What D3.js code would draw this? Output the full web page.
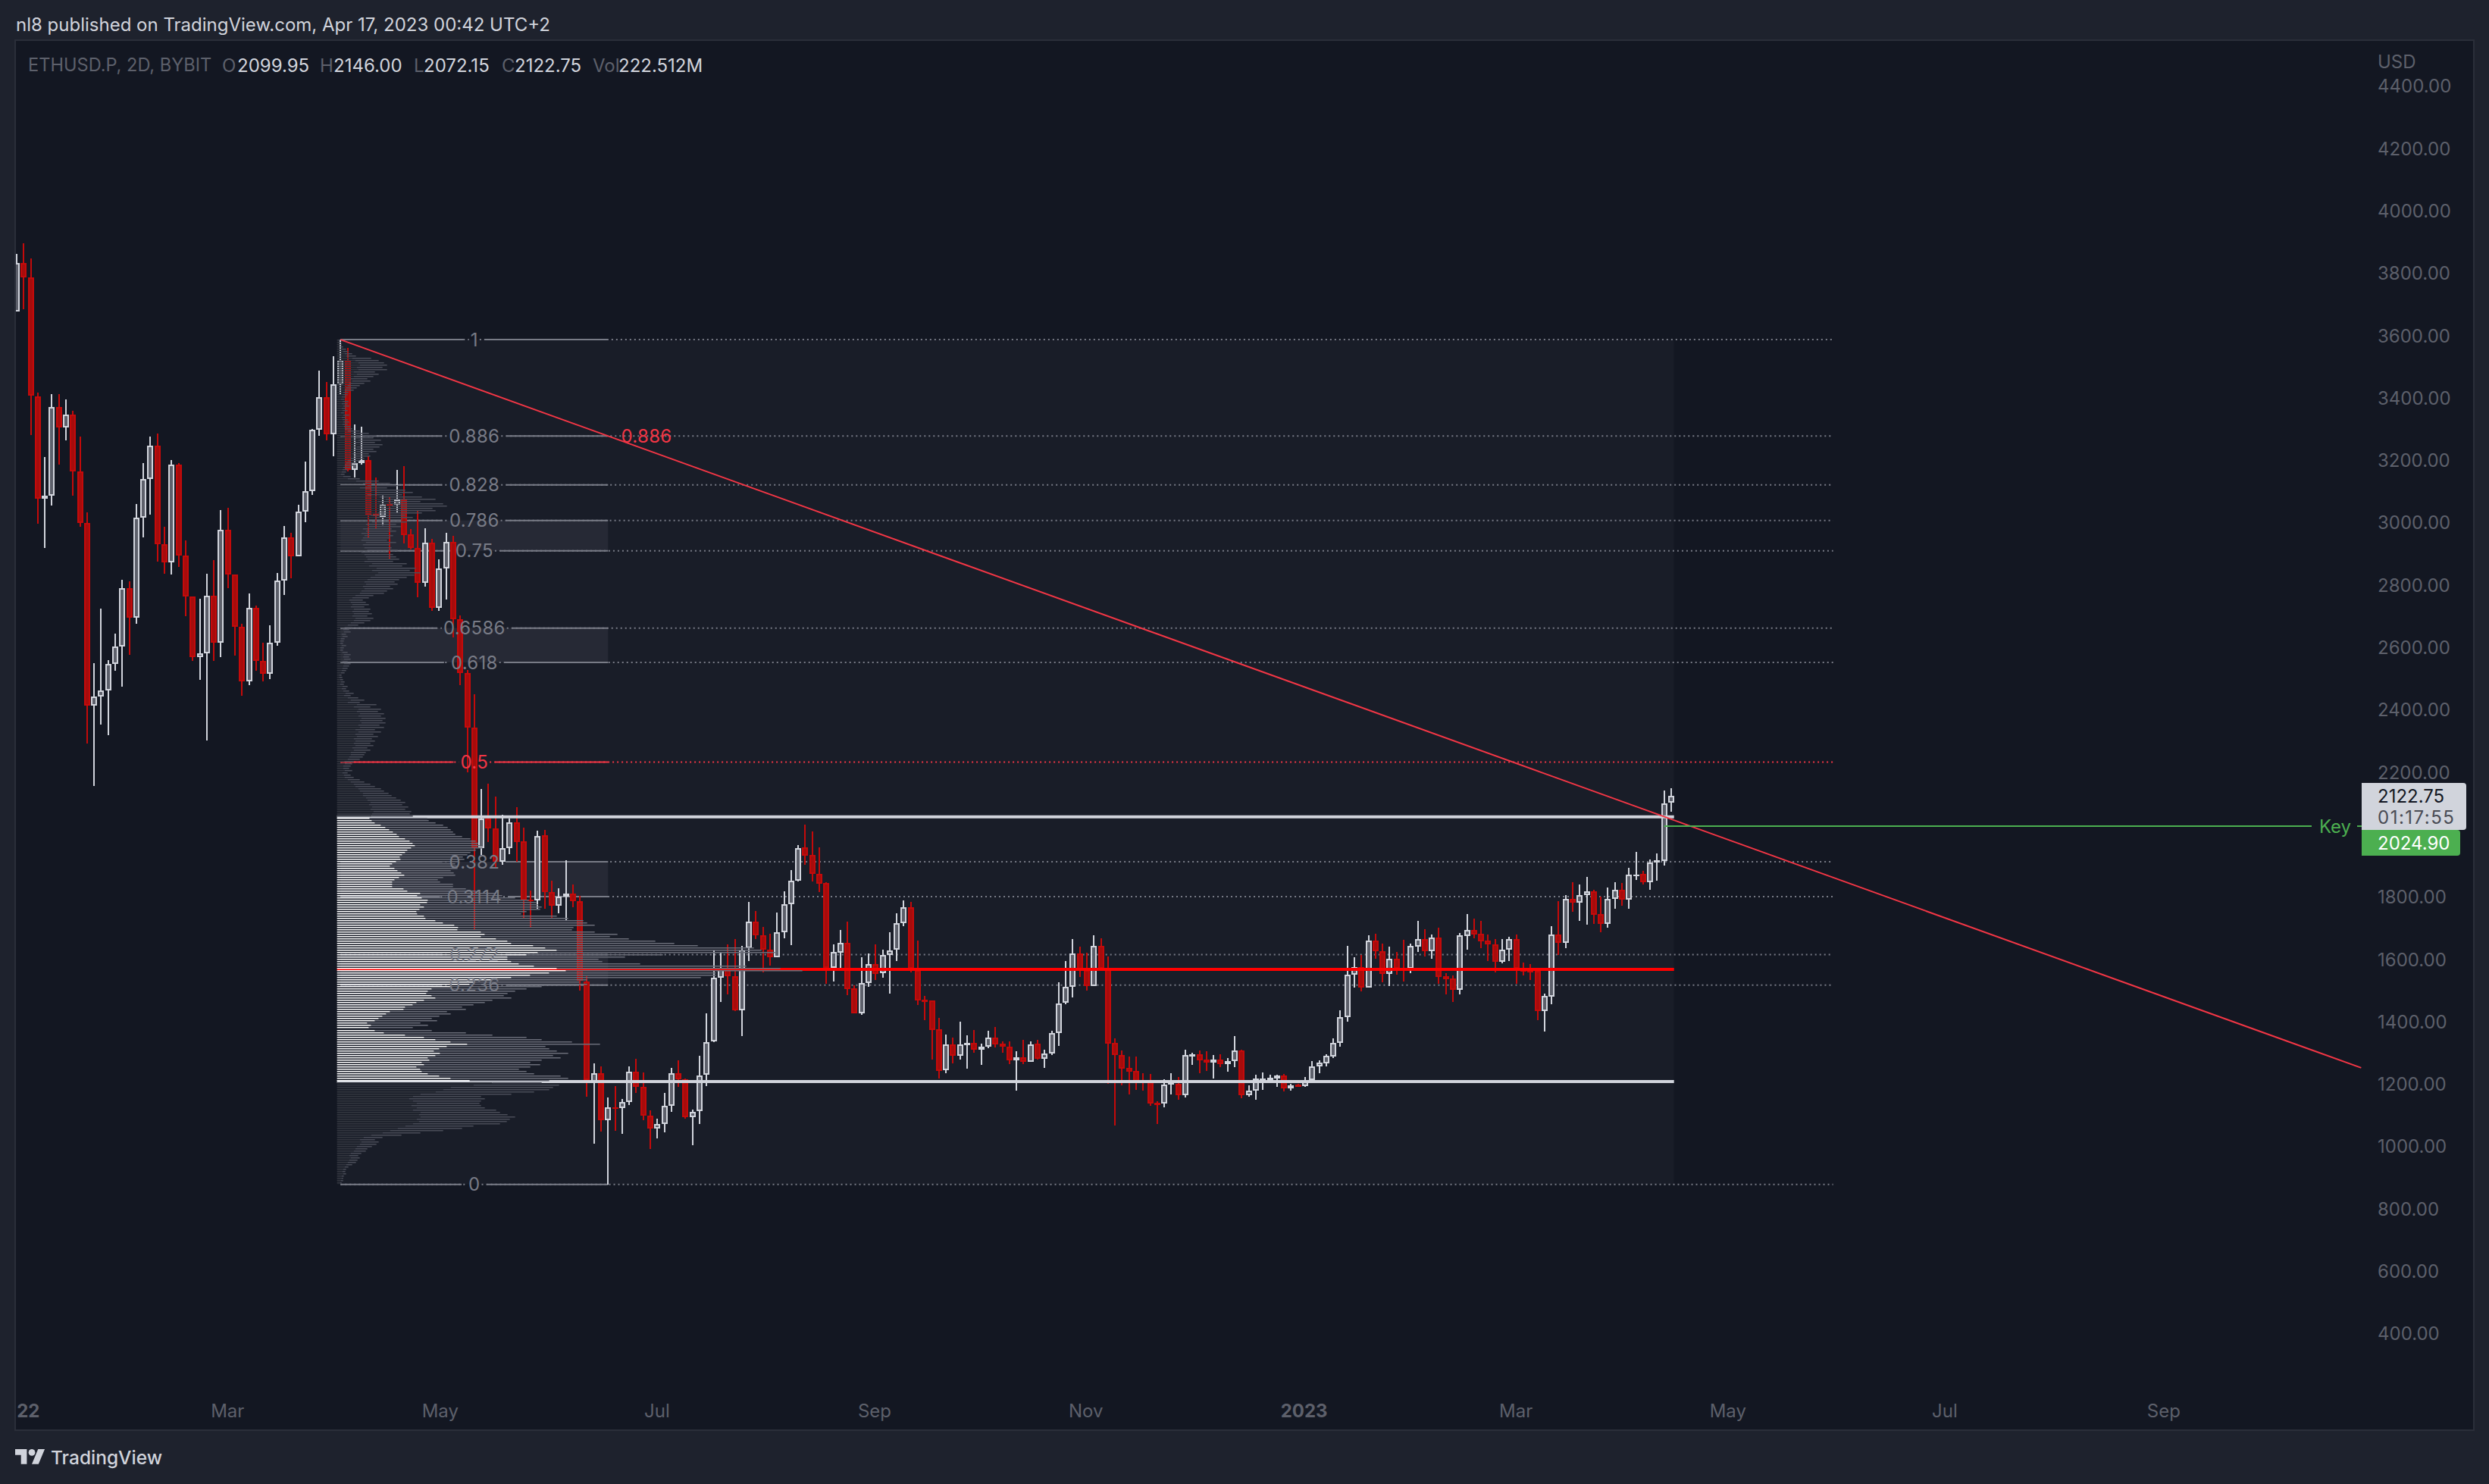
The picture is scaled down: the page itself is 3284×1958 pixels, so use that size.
<!DOCTYPE html>
<html>
<head>
<meta charset="utf-8">
<script src="https://cdn.jsdelivr.net/npm/d3@7"></script>
<style>
html, body { margin: 0; padding: 0; background: #1e222d; }
text { font-family: Inter, "Noto Sans", sans-serif; }
</style>
</head>
<body>
<div id="chart"></div>
<script>
// ETHUSD.P 2D candles
var opens = [3676,3830,3784,3404,3076,3084,3368,3304,3345,3162,2998,2411,2440,2461,2544,2602,2787,2694,3013,3139,3244,2928,2871,3185,2892,2762,2568,2578,2765,2614,2974,2833,2663,2488,2726,2554,2513,2614,2812,2950,2890,3034,3100,3295,3400,3281,3443,3519,3166,3190,3200,3026,3017,3058,3055,3073,2960,2918,2806,2934,2724,2852,2937,2689,2517,2340,1954,2050,2017,1910,1954,2038,1976,1790,1787,1995,1813,1769,1800,1808,1784,1528,1207,1232,1081,1124,1120,1140,1237,1189,1097,1055,1069,1128,1232,1213,1091,1111,1227,1334,1540,1567,1545,1435,1634,1718,1676,1628,1604,1686,1774,1851,1956,1932,1873,1842,1571,1620,1652,1504,1424,1521,1582,1553,1613,1628,1715,1764,1563,1468,1465,1373,1242,1324,1289,1323,1331,1307,1319,1348,1327,1319,1275,1283,1270,1327,1280,1295,1361,1458,1511,1616,1563,1513,1642,1567,1329,1292,1249,1239,1210,1207,1138,1135,1197,1200,1163,1289,1293,1276,1268,1276,1263,1271,1306,1163,1178,1213,1213,1216,1225,1185,1196,1192,1210,1254,1265,1287,1331,1412,1548,1574,1508,1657,1625,1552,1599,1568,1567,1639,1662,1624,1669,1544,1536,1501,1673,1691,1679,1657,1647,1591,1630,1662,1567,1566,1561,1433,1479,1677,1652,1791,1780,1803,1815,1742,1712,1791,1820,1790,1867,1871,1846,1908,1914,2099.95];
var highs = [3860,3894,3846,3415,3208,3409,3409,3394,3356,3274,3030,2547,2722,2557,2642,2814,2809,3059,3188,3274,3285,2985,3199,3189,2942,2762,2754,2834,2878,3038,3046,2833,2673,2771,2732,2613,2669,2837,2987,2966,3056,3193,3299,3486,3449,3532,3585,3559,3312,3306,3212,3142,3085,3080,3166,3179,2977,3038,2979,2946,2881,2965,2956,2701,2526,2449,2143,2162,2119,2062,2050,2086,2019,1819,2011,2013,1849,1826,1916,1838,1802,1544,1265,1255,1155,1192,1151,1255,1279,1236,1114,1086,1170,1250,1275,1215,1116,1288,1424,1630,1618,1645,1662,1642,1783,1754,1702,1681,1749,1817,1884,1964,2030,2009,1956,1845,1646,1691,1718,1514,1604,1616,1646,1628,1684,1745,1788,1782,1657,1480,1466,1409,1357,1346,1397,1354,1371,1327,1369,1380,1335,1335,1303,1340,1335,1340,1307,1369,1524,1592,1662,1638,1618,1674,1665,1607,1344,1306,1286,1286,1233,1230,1142,1213,1233,1220,1308,1298,1306,1303,1291,1293,1281,1352,1307,1194,1228,1235,1228,1227,1230,1200,1200,1220,1271,1274,1293,1344,1434,1641,1604,1612,1675,1680,1648,1638,1621,1660,1648,1721,1694,1677,1699,1553,1546,1682,1743,1728,1721,1677,1663,1663,1670,1677,1587,1582,1566,1488,1704,1784,1803,1845,1837,1862,1821,1800,1827,1845,1842,1892,1943,1882,1918,1938,2140,2146];
var lows = [3674,3683,3278,2995,2918,3052,3183,3263,3084,2986,2289,2154,2350,2316,2522,2471,2575,2673,2952,3024,2874,2835,2831,2855,2697,2556,2495,2300,2554,2568,2787,2573,2444,2478,2522,2490,2497,2604,2767,2819,2890,3000,3086,3276,3261,3210,3407,3162,3144,3183,2950,2977,2991,2881,3030,2932,2911,2760,2794,2714,2714,2752,2630,2477,2198,1693,1932,1975,1895,1900,1934,1910,1728,1700,1758,1761,1732,1746,1722,1764,1498,1157,1008,1046,876,1049,1039,1130,1170,1081,991,1025,1043,1108,1190,1088,1003,1069,1191,1332,1462,1486,1432,1352,1592,1664,1555,1578,1604,1665,1644,1848,1902,1848,1814,1519,1527,1570,1484,1424,1419,1510,1532,1539,1489,1592,1704,1557,1452,1403,1277,1216,1233,1265,1277,1247,1298,1259,1314,1316,1298,1263,1178,1263,1270,1277,1250,1292,1321,1455,1476,1542,1498,1513,1567,1200,1066,1195,1165,1179,1177,1128,1071,1123,1165,1148,1155,1259,1233,1240,1216,1252,1237,1252,1152,1157,1148,1179,1210,1189,1174,1177,1189,1189,1210,1233,1254,1281,1318,1398,1507,1495,1508,1600,1524,1512,1548,1527,1553,1621,1607,1600,1519,1485,1461,1485,1629,1665,1634,1592,1556,1586,1592,1519,1546,1532,1403,1366,1454,1612,1634,1750,1721,1709,1711,1685,1699,1760,1770,1760,1853,1839,1821,1850,1899,2072.15];
var closes = [3830,3785,3405,3076,3084,3368,3304,3345,3162,2998,2411,2440,2461,2544,2602,2787,2694,3013,3139,3244,2928,2871,3185,2892,2762,2568,2578,2765,2614,2974,2833,2663,2488,2726,2554,2513,2614,2812,2950,2890,3034,3100,3295,3400,3281,3443,3519,3166,3190,3200,3025,3018,3056,3053,3073,2958,2917,2806,2934,2724,2851,2937,2689,2517,2340,1954,2050,2017,1910,1954,2038,1975,1787,1786,1994,1813,1769,1800,1808,1784,1530,1210,1232,1081,1123,1120,1140,1237,1189,1097,1055,1071,1128,1232,1213,1091,1110,1226,1333,1540,1571,1545,1435,1630,1718,1676,1628,1604,1686,1774,1851,1955,1931,1873,1841,1571,1621,1652,1503,1424,1521,1582,1551,1612,1627,1715,1764,1569,1467,1464,1372,1241,1324,1289,1324,1331,1307,1318,1348,1326,1318,1275,1284,1270,1326,1280,1295,1361,1457,1511,1616,1563,1513,1642,1567,1328,1292,1248,1238,1207,1203,1136,1134,1197,1207,1163,1290,1293,1275,1268,1276,1263,1271,1305,1163,1178,1215,1216,1218,1225,1184,1195,1192,1211,1254,1266,1288,1331,1412,1548,1574,1508,1657,1624,1552,1599,1567,1564,1640,1662,1624,1669,1542,1534,1501,1674,1691,1678,1656,1647,1591,1630,1662,1567,1559,1557,1433,1480,1677,1652,1791,1780,1803,1815,1741,1712,1791,1820,1790,1869,1870,1846,1908,1915,2097,2122.75];

// visible range volume profile, top row to bottom row
var vpUp = [2,2,3,4,6,8,10,12,20,24,28,30,26,28,22,26,22,18,20,16,14,12,10,8,7,6,5,7,6,8,6,7,5,8,6,7,8,7,9,10,14,20,26,22,28,24,30,26,22,26,20,22,18,14,12,10,8,7,6,5,8,14,25,34,40,30,44,50,40,56,64,54,70,72,60,64,54,44,50,42,46,38,42,34,38,32,36,34,32,38,34,36,40,32,36,38,40,36,46,42,52,46,54,50,44,40,36,38,34,36,32,30,24,20,16,18,20,18,22,20,22,20,24,22,18,14,10,8,9,6,7,5,4,4,6,4,4,7,9,8,9,7,9,8,7,6,5,3,3,4,5,4,7,6,8,11,9,14,18,14,26,22,28,26,30,28,32,30,32,28,30,24,28,24,26,22,24,22,24,20,22,18,18,16,14,10,10,8,8,10,7,9,10,14,18,22,24,28,30,34,34,38,40,44,42,46,44,48,46,46,
  43,46,50,58,64,69,74,79,82,90,96,100,103,98,93,90,86,83,84,78,73,70,76,80,85,89,82,76,73,73,
  73,88,93,110,106,112,120,119,110,115,109,105,106,115,117,130,140,155,160,159,190,195,190,210,225,230,259,275,290,265,250,225,225,230,240,260,290,302,280,255,230,205,180,175,150,125,120,118,125,130,115,105,100,90,88,70,65,60,55,50,40,45,42,50,62,90,115,130,150,172,145,135,128,136,130,120,122,112,115,105,110,112,120,135,150,175,205,
  180,150,140,130,110,100,95,100,105,98,105,100,110,108,110,105,108,100,90,80,70,60,45,35,30,32,30,26,24,22,18,16,18,16,14,12,10,8,7,8,6,6,5,4];
var vpAll = [4,5,6,8,12,15,20,25,45,55,62,66,60,66,50,55,48,40,44,36,30,26,22,15,14,12,10,15,14,16,12,14,10,16,12,14,16,14,18,20,30,42,52,48,58,50,60,56,48,52,42,44,36,30,26,22,18,14,12,10,18,30,55,70,80,66,90,100,86,112,130,110,140,145,126,130,112,90,100,86,92,78,84,72,78,68,74,70,66,78,70,72,80,68,74,78,82,74,92,86,104,96,110,102,92,82,76,80,70,74,66,62,48,42,34,38,42,36,44,42,46,40,48,44,36,28,20,16,18,12,14,10,9,8,12,9,8,14,18,16,18,14,18,16,14,12,10,6,7,8,10,9,14,12,16,22,18,28,36,30,52,44,58,54,62,58,64,60,64,56,62,50,58,48,54,46,50,44,48,40,44,38,36,34,30,22,20,18,16,20,14,18,22,30,36,44,50,58,62,68,72,78,84,90,86,94,90,98,96,100,
  119,121,130,140,146,150,153,156,165,176,183,186,189,192,183,176,172,166,168,160,156,158,159,150,154,156,140,133,136,153,
  153,170,183,210,218,235,253,263,265,270,268,250,243,290,305,325,330,340,312,310,340,370,360,385,420,445,476,550,560,578,430,380,345,350,400,540,585,614,500,500,480,330,320,330,270,250,235,225,220,230,205,195,180,165,170,145,150,135,125,132,110,120,100,125,170,205,250,270,310,347,275,280,290,305,285,295,270,255,268,255,240,250,260,295,305,280,270,
  293,285,280,260,230,190,195,190,188,190,195,210,215,225,235,228,224,215,180,165,140,110,85,60,50,55,52,46,40,38,32,28,30,27,25,20,15,12,11,12,9,8,8,6];

var priceTicks = [400,600,800,1000,1200,1400,1600,1800,2200,2400,2600,2800,3000,3200,3400,3600,3800,4000,4200,4400];
var timeTickBars = [1.6,29.9,60.1,90.9,121.8,151.8,182.8,212.9,243,273.8,304.9];
var timeTickLabels = ["22","Mar","May","Jul","Sep","Nov","2023","Mar","May","Jul","Sep"];
var timeTickBold = ["22","2023"];

var fibHigh = 3585, fibLow = 876;
// the line labelled 0.3114 sits near 0.3407 of the range in the picture
var fibLevels = [1,0.886,0.828,0.786,0.75,0.6586,0.618,0.5,0.382,0.3407,0.272,0.236,0];
var fibLabels = ["1","0.886","0.828","0.786","0.75","0.6586","0.618","0.5","0.382","0.3114","0.272","0.236","0"];
var fibBands = [[0.786,0.75],[0.6586,0.618],[0.382,0.3407],[0.272,0.236]];
var vaHigh = 2055, poc = 1565.5, vaLow = 1206;
var keyPrice = 2024.90, lastPrice = 2122.75;

var W = 3284, H = 1958;
var upCol = "#d1d4dc", upFill = "#5d606b", downCol = "#c40a0a", downFill = "#a60c0c";
var fibCol = "#787b86", redCol = "#f23645";

var svg = d3.select("#chart").append("svg")
    .attr("width", W).attr("height", H)
    .style("display", "block");

svg.append("rect").attr("width", W).attr("height", H).attr("fill", "#1e222d");
svg.append("rect").attr("x", 20).attr("y", 53).attr("width", 3244).attr("height", 1834)
    .attr("fill", "#131722").attr("stroke", "#2a2e39").attr("stroke-width", 2);

svg.append("defs").append("clipPath").attr("id", "pane")
    .append("rect").attr("x", 21).attr("y", 54).attr("width", 3242).attr("height", 1832);

var x = d3.scaleLinear().domain([0, 235]).range([22, 2205]);
var y = d3.scaleLinear().domain([400, 4400]).range([1758.7, 112.7]);
var vpW = d3.scaleLinear().domain([0, 614]).range([0, 614]);

var pane = svg.append("g").attr("clip-path", "url(#pane)");

// shaded range of the profile / fib
var rangeStart = 45.5, rangeEnd = 235.4, fibEnd = 84, dotEnd = 258;
pane.append("rect")
    .attr("x", x(rangeStart)).attr("y", y(fibHigh))
    .attr("width", x(rangeEnd) - x(rangeStart))
    .attr("height", y(fibLow) - y(fibHigh))
    .attr("fill", "#191d28");

function fibPrice(l) { return fibLow + l * (fibHigh - fibLow); }

pane.selectAll("rect.band").data(fibBands).enter().append("rect")
    .attr("class", "band")
    .attr("x", x(46)).attr("width", x(fibEnd) - x(46))
    .attr("y", function (d) { return y(fibPrice(d[0])); })
    .attr("height", function (d) { return y(fibPrice(d[1])) - y(fibPrice(d[0])); })
    .attr("fill", "#787b86").attr("fill-opacity", 0.14);

var fibG = pane.append("g");
var candleG = pane.append("g");
var hlineG = pane.append("g");
var vpG = pane.append("g");
var topG = pane.append("g");

// fib labels first, the lines leave a gap around them
var fibCenter = 65;
fibLevels.forEach(function (l, i) {
    var col = l === 0.5 ? redCol : fibCol;
    var py = y(fibPrice(l));
    var t = topG.append("text")
        .attr("x", x(fibCenter)).attr("y", py)
        .attr("dy", "0.36em")
        .attr("text-anchor", "middle")
        .attr("font-size", 24)
        .attr("letter-spacing", 0.3)
        .attr("fill", col)
        .text(fibLabels[i]);
    var w = t.node().getComputedTextLength() / 2;
    var cx = x(fibCenter);
    [[x(46), cx - w - 2], [cx + w + 2, x(dotEnd)]].forEach(function (s) {
        fibG.append("line").attr("x1", s[0]).attr("x2", s[1]).attr("y1", py).attr("y2", py)
            .attr("stroke", col).attr("stroke-width", 2).attr("stroke-dasharray", "2 4");
    });
    [[x(46), cx - w - 9], [cx + w + 9, x(fibEnd)]].forEach(function (s) {
        fibG.append("line").attr("x1", s[0]).attr("x2", s[1]).attr("y1", py).attr("y2", py)
            .attr("stroke", col).attr("stroke-width", 2);
    });
});

// candles
var bars = d3.range(opens.length);
function cx(i) { return Math.round(x(i)); }
function isUp(i) { return closes[i] >= opens[i]; }

candleG.selectAll("line.wick").data(bars).enter().append("line")
    .attr("class", "wick")
    .attr("x1", cx).attr("x2", cx)
    .attr("y1", function (i) { return y(highs[i]); })
    .attr("y2", function (i) { return y(lows[i]); })
    .attr("stroke", function (i) { return isUp(i) ? upCol : downCol; })
    .attr("stroke-width", 2)
    .attr("shape-rendering", "crispEdges");

candleG.selectAll("rect.body").data(bars).enter().append("rect")
    .attr("class", "body")
    .attr("x", function (i) { return cx(i) - 3; })
    .attr("width", 6)
    .attr("y", function (i) { return y(Math.max(opens[i], closes[i])) + 1; })
    .attr("height", function (i) { return Math.max(0.5, Math.abs(y(opens[i]) - y(closes[i])) - 2); })
    .attr("fill", function (i) { return isUp(i) ? upFill : downFill; })
    .attr("stroke", function (i) { return isUp(i) ? upCol : downCol; })
    .attr("stroke-width", 2)
    .attr("shape-rendering", "crispEdges");

// value area high / low and point of control
[[vaHigh, "#d1d4dc"], [poc, "#ff0000"], [vaLow, "#d1d4dc"]].forEach(function (d) {
    hlineG.append("line")
        .attr("x1", x(rangeStart)).attr("x2", x(rangeEnd))
        .attr("y1", y(d[0])).attr("y2", y(d[0]))
        .attr("stroke", d[1]).attr("stroke-width", 4);
});

// profile rows sit over the candles
var rowStep = (fibHigh - fibLow) / vpAll.length;
var rows = d3.range(vpAll.length);
function rowPrice(i) { return fibHigh - i * rowStep; }
function inVA(i) { return rowPrice(i) <= vaHigh && rowPrice(i) >= vaLow; }

vpG.selectAll("rect.up").data(rows).enter().append("rect")
    .attr("class", "up")
    .attr("x", x(rangeStart))
    .attr("y", function (i) { return Math.round(y(rowPrice(i))); })
    .attr("width", function (i) { return vpW(vpUp[i]); })
    .attr("height", 1.5)
    .attr("fill", function (i) { return inVA(i) ? "#ffffff" : "#33363f"; });

vpG.selectAll("rect.down").data(rows).enter().append("rect")
    .attr("class", "down")
    .attr("x", function (i) { return x(rangeStart) + vpW(vpUp[i]); })
    .attr("y", function (i) { return Math.round(y(rowPrice(i))); })
    .attr("width", function (i) { return Math.max(0, vpW(vpAll[i]) - vpW(vpUp[i])); })
    .attr("height", 1.5)
    .attr("fill", function (i) { return inVA(i) ? "#6a6d78" : "#4a4d58"; });

// trend line
topG.append("line")
    .attr("x1", x(46)).attr("y1", y(fibHigh))
    .attr("x2", x(333)).attr("y2", y(1250))
    .attr("stroke", redCol).attr("stroke-width", 2);

// red 0.886 tag on the trend line
topG.append("text")
    .attr("x", 853).attr("y", y(fibPrice(0.886)))
    .attr("dy", "0.36em").attr("text-anchor", "middle")
    .attr("font-size", 24).attr("letter-spacing", 0.3).attr("fill", redCol)
    .text("0.886");

// Key level
var keyY = y(keyPrice);
topG.append("line").attr("x1", x(234)).attr("x2", 3050).attr("y1", keyY).attr("y2", keyY)
    .attr("stroke", "#4caf50").attr("stroke-width", 2);
topG.append("line").attr("x1", 3110).attr("x2", 3116).attr("y1", keyY).attr("y2", keyY)
    .attr("stroke", "#4caf50").attr("stroke-width", 2);
topG.append("text").attr("x", 3081).attr("y", keyY).attr("dy", "0.36em")
    .attr("text-anchor", "middle").attr("font-size", 24).attr("fill", "#4caf50").text("Key");

// axes
var yAxis = d3.axisRight(y).tickValues(priceTicks).tickFormat(d3.format(".2f")).tickSize(0).tickPadding(0);
var yG = svg.append("g").attr("transform", "translate(3137,0)").call(yAxis);
yG.select(".domain").remove();
yG.selectAll("text").attr("font-size", 24).attr("fill", "#5d606b").attr("dy", "0.38em")
    .style("font-family", "Inter, sans-serif");

var xAxis = d3.axisBottom(x).tickValues(timeTickBars)
    .tickFormat(function (d, i) { return timeTickLabels[i]; })
    .tickSize(0).tickPadding(0);
var xG = svg.append("g").attr("transform", "translate(0,1853)").call(xAxis);
xG.select(".domain").remove();
xG.selectAll("text").attr("font-size", 24).attr("fill", "#5d606b")
    .style("font-family", "Inter, sans-serif")
    .attr("font-weight", function (d, i) { return timeTickBold.indexOf(timeTickLabels[i]) >= 0 ? 700 : 400; });

svg.append("text").attr("x", 3137).attr("y", 81).attr("dy", "0.36em")
    .attr("font-size", 24).attr("fill", "#5d606b").text("USD");

// price tags
svg.append("path")
    .attr("d", "M3116,1033H3250a4,4 0 0 1 4,4V1091a4,4 0 0 1 -4,4H3116Z")
    .attr("fill", "#d1d4dc");
svg.append("text").attr("x", 3137).attr("y", 1050).attr("dy", "0.36em")
    .attr("font-size", 24).attr("fill", "#131722").text(d3.format(".2f")(lastPrice));
svg.append("text").attr("x", 3137).attr("y", 1078).attr("dy", "0.36em")
    .attr("font-size", 24).attr("letter-spacing", 1.5).attr("fill", "#4a4c55").text("01:17:55");
svg.append("path")
    .attr("d", "M3116,1095H3242a4,4 0 0 1 4,4V1125a4,4 0 0 1 -4,4H3116Z")
    .attr("fill", "#4caf50");
svg.append("text").attr("x", 3137).attr("y", 1112).attr("dy", "0.36em")
    .attr("font-size", 24).attr("fill", "#ffffff").text(d3.format(".2f")(keyPrice));

// header and legend
svg.append("text").attr("x", 21).attr("y", 32).attr("dy", "0.36em")
    .attr("font-size", 24).attr("fill", "#d1d4dc")
    .text("nl8 published on TradingView.com, Apr 17, 2023 00:42 UTC+2");

var legendTexts = ["ETHUSD.P, 2D, BYBIT","O","2099.95","H","2146.00","L","2072.15","C","2122.75","Vol","222.512M"];
var legendX = [37,293,313,422,440,546,559,662,679,782,816];
var legendBright = [2,4,6,8,10];
legendTexts.forEach(function (s, i) {
    svg.append("text").attr("x", legendX[i]).attr("y", 86).attr("dy", "0.36em")
        .attr("font-size", i === 0 ? 23.6 : 24)
        .attr("fill", legendBright.indexOf(i) >= 0 ? "#d1d4dc" : "#5d606b")
        .text(s);
});

// footer logo
var logo = svg.append("g").attr("transform", "translate(20,1907.6) scale(1.1)").attr("fill", "#d1d4dc");
logo.append("path").attr("d", "M14 22H7V11H0V4h14v18zM28 22h-8l7.5-18h8L28 22z");
logo.append("circle").attr("cx", 20).attr("cy", 8).attr("r", 4);
svg.append("text").attr("x", 67).attr("y", 1923).attr("dy", "0.36em")
    .attr("font-size", 24.5).attr("font-weight", 500).attr("fill", "#d1d4dc").text("TradingView");
</script>
</body>
</html>
